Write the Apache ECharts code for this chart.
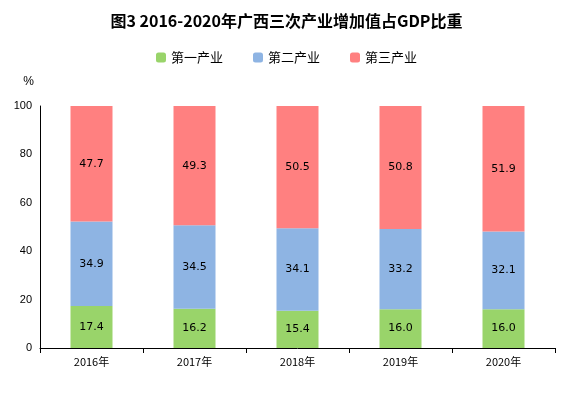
<!DOCTYPE html>
<html><head><meta charset="utf-8">
<script src="https://cdn.jsdelivr.net/npm/echarts@6/dist/echarts.min.js"></script>
<style>html,body{margin:0;padding:0;background:#fff}#c{width:573px;height:402px}</style>
</head><body><div id="c"></div>
<script>
var years = ['2016年', '2017年', '2018年', '2019年', '2020年'];
var primary = [17.4, 16.2, 15.4, 16.0, 16.0];
var secondary = [34.9, 34.5, 34.1, 33.2, 32.1];
var tertiary = [47.7, 49.3, 50.5, 50.8, 51.9];

var chart = echarts.init(document.getElementById('c'));
var lbl = {show: true, position: 'inside', color: '#000', fontSize: 11, fontFamily: 'DejaVu Sans',
  formatter: function (p) { return p.value.toFixed(1); }};
function bar(name, data, color) {
  return {name: name, type: 'bar', stack: 'a', data: data, barWidth: 42,
    itemStyle: {color: color}, label: lbl};
}
chart.setOption({
  animation: false,
  title: {text: '图3 2016-2020年广西三次产业增加值占GDP比重', left: 'center', top: 8,
    textStyle: {fontSize: 16, fontWeight: 'bold', color: '#000', fontFamily: 'Noto Sans CJK SC'}},
  legend: {top: 46, left: 'center', itemWidth: 10, itemHeight: 10, itemGap: 30,
    textStyle: {fontSize: 13, color: '#000', fontFamily: 'Noto Sans CJK SC'}},
  grid: {left: 40, right: 18, top: 106, bottom: 54},
  xAxis: {type: 'category', data: years,
    axisLine: {lineStyle: {color: '#000'}},
    axisTick: {show: true, alignWithLabel: false, lineStyle: {color: '#000'}},
    axisLabel: {color: '#000', fontSize: 11, fontFamily: 'Noto Sans CJK SC', margin: 8}},
  yAxis: {type: 'value', min: 0, max: 100, interval: 20, name: '%', nameLocation: 'end',
    nameGap: 18, nameTextStyle: {color: '#000', fontSize: 12, align: 'right', padding: [0, 6, 0, 0]},
    axisLine: {show: true, lineStyle: {color: '#000'}},
    axisTick: {show: false},
    splitLine: {show: false},
    axisLabel: {color: '#000', fontSize: 11}},
  series: [
    bar('第一产业', primary, '#99d46a'),
    bar('第二产业', secondary, '#8eb4e3'),
    bar('第三产业', tertiary, '#ff8080')
  ]
});
</script></body></html>
